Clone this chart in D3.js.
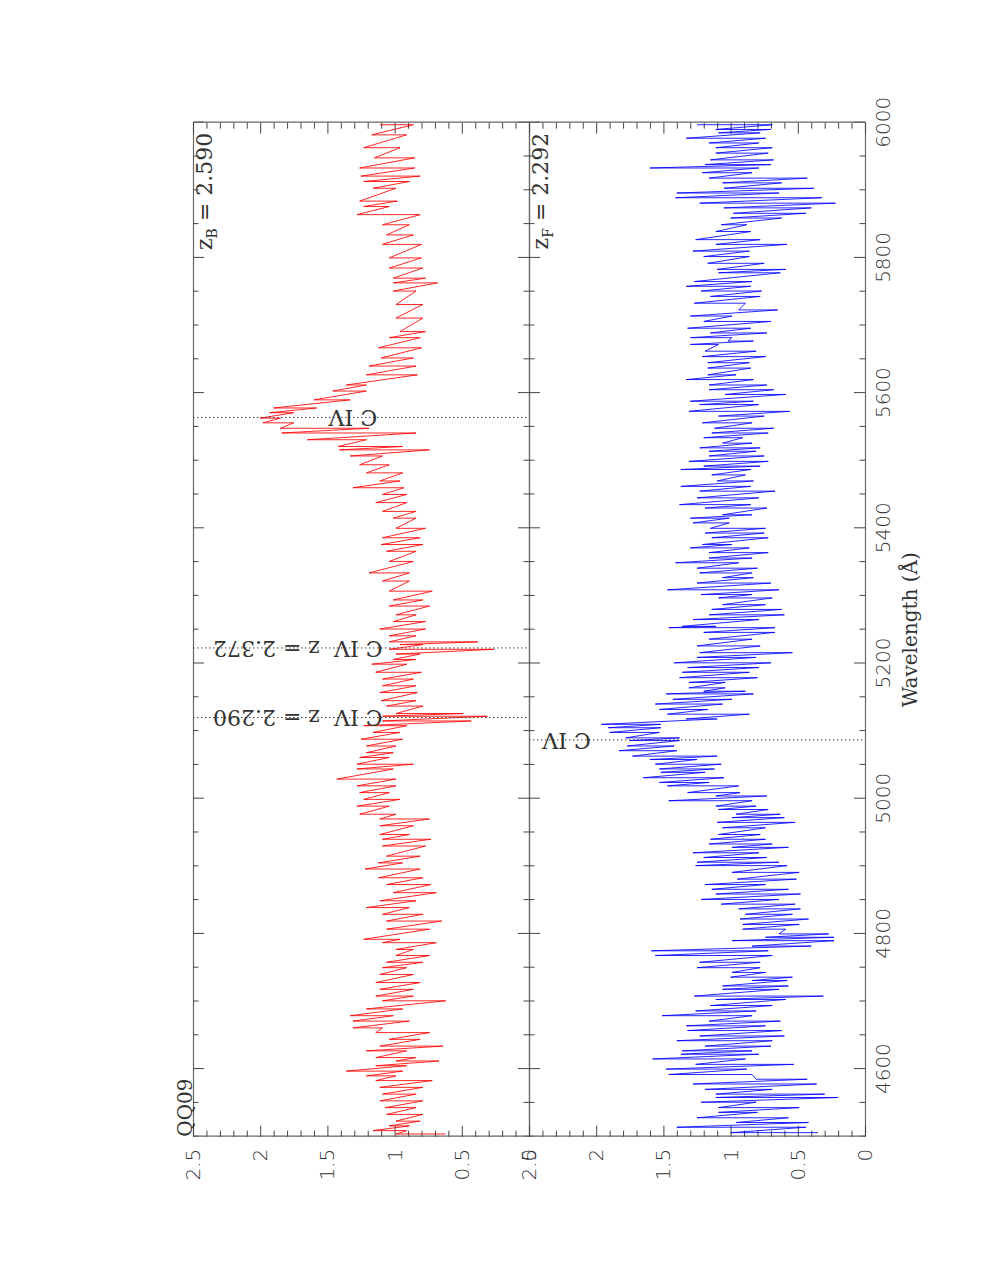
<!DOCTYPE html>
<html><head><meta charset="utf-8">
<script src="https://cdn.jsdelivr.net/npm/d3@7/dist/d3.min.js"></script>
<style>body{margin:0;background:#fff}svg{display:block}</style>
</head><body><svg id="c" width="981" height="1269"></svg>
<script>
// ---------- data ----------
// wavelength (Å) of each reading, with the upper and lower flux of the noisy trace there
const redWave=[5997,5982,5963,5948,5933,5921,5913,5903,5884,5876,5864,5849,5834,5820,5800,5785,5770,5763,5751,5731,5711,5691,5682,5667,5652,5640,5627,5612,5603,5590,5578,5571,5563,5556,5548,5541,5531,5521,5516,5507,5494,5482,5470,5460,5450,5438,5425,5415,5400,5386,5376,5366,5351,5334,5322,5307,5294,5285,5272,5262,5251,5241,5232,5228,5221,5214,5206,5199,5187,5177,5167,5157,5145,5137,5126,5122,5115,5108,5098,5088,5078,5068,5061,5051,5044,5029,5019,5009,4999,4989,4977,4970,4960,4947,4940,4930,4915,4905,4896,4883,4873,4861,4849,4839,4829,4819,4807,4792,4787,4777,4768,4758,4750,4740,4728,4718,4708,4701,4689,4679,4671,4661,4654,4644,4634,4627,4617,4612,4605,4597,4590,4583,4573,4563,4553,4543,4533,4523,4516,4509,4504];
const redHigh=[1.11,1.17,1.23,1.15,1.26,1.25,1.23,1.16,1.26,1.23,1.28,1.09,1.06,1.09,1.04,1.04,1.01,1.01,1.01,0.99,0.99,0.96,1.04,1.12,1.10,1.19,1.21,1.36,1.46,1.60,1.90,1.93,2.00,1.98,1.85,1.84,1.65,1.42,1.41,1.33,1.26,1.21,1.11,1.31,1.09,1.14,1.09,1.01,0.99,1.09,1.10,1.06,1.04,1.19,1.09,1.04,1.01,1.04,0.99,1.01,1.11,1.04,1.04,0.96,1.04,0.99,1.01,1.17,1.14,1.09,1.09,1.11,1.10,1.06,0.99,1.09,1.09,1.23,1.16,1.25,1.21,1.21,1.26,1.28,1.28,1.43,1.28,1.26,1.23,1.28,1.26,1.11,1.11,1.11,1.09,1.09,1.06,1.12,1.22,1.12,1.06,1.01,1.11,1.21,1.09,1.06,1.06,1.23,1.09,0.99,0.99,1.06,1.09,1.11,1.14,1.11,1.14,1.09,1.21,1.33,1.31,1.31,1.14,1.04,1.11,1.21,1.14,0.99,1.14,1.36,1.21,1.14,1.11,1.09,1.11,1.07,1.06,0.99,1.04,1.16,0.99];
const redLow=[0.86,0.91,0.96,0.85,0.85,0.81,0.89,0.99,0.98,1.04,0.81,0.89,0.86,0.80,0.80,0.79,0.77,0.68,0.84,0.79,0.79,0.77,0.81,0.80,0.86,0.84,0.83,1.21,1.21,1.33,1.58,1.75,1.85,1.75,1.19,0.84,1.21,0.94,0.74,1.09,1.04,0.94,0.96,0.93,0.91,0.91,0.84,0.84,0.77,0.81,0.79,0.84,0.86,0.89,0.89,0.72,0.79,0.74,0.84,0.77,0.77,0.84,0.38,0.79,0.26,0.81,0.84,0.91,0.80,0.86,0.84,0.83,0.84,0.79,0.49,0.31,0.43,0.91,0.96,0.94,0.99,1.01,1.04,0.86,1.01,0.99,0.99,1.04,0.96,1.04,0.99,0.74,0.86,0.89,0.73,0.77,0.81,0.94,0.81,0.79,0.73,0.69,0.84,0.89,0.79,0.65,0.74,0.96,0.69,0.86,0.74,0.79,0.91,0.86,0.81,0.86,0.86,0.62,0.94,1.01,0.89,1.09,0.74,0.81,0.64,0.91,0.84,0.67,0.91,0.94,0.99,0.72,0.79,0.84,0.79,0.84,0.79,0.81,0.89,0.91,0.62];

const blueWave=[5997,5990,5985,5977,5970,5963,5955,5945,5938,5933,5926,5918,5911,5903,5896,5889,5881,5874,5866,5859,5849,5839,5827,5820,5810,5802,5792,5783,5778,5765,5758,5751,5743,5733,5723,5714,5706,5696,5689,5682,5677,5672,5662,5654,5645,5637,5627,5620,5612,5605,5598,5588,5583,5573,5566,5556,5548,5541,5534,5526,5519,5514,5507,5499,5492,5487,5479,5470,5462,5455,5445,5435,5430,5420,5415,5408,5400,5393,5386,5376,5371,5364,5356,5349,5341,5334,5327,5319,5309,5302,5297,5287,5280,5272,5265,5255,5253,5246,5236,5226,5216,5209,5201,5194,5187,5179,5172,5164,5159,5155,5147,5140,5132,5125,5118,5110,5105,5098,5090,5086,5078,5071,5063,5058,5051,5044,5039,5031,5024,5019,5009,5004,4997,4989,4984,4977,4972,4965,4957,4947,4940,4933,4928,4920,4913,4906,4901,4891,4881,4873,4866,4859,4851,4844,4837,4829,4822,4814,4807,4800,4795,4790,4782,4775,4768,4758,4750,4743,4736,4731,4723,4718,4708,4703,4694,4686,4679,4671,4664,4657,4649,4642,4634,4627,4622,4615,4607,4600,4592,4585,4578,4570,4563,4558,4551,4543,4536,4528,4521,4514,4506];
const blueHigh=[1.25,1.11,1.09,1.33,1.16,1.11,1.11,1.15,1.19,1.60,1.21,1.16,1.06,1.05,1.40,1.41,1.23,1.05,0.98,1.00,1.07,1.11,1.26,1.11,1.28,1.20,1.17,1.10,1.09,1.27,1.33,1.22,1.15,1.27,0.94,1.30,1.20,1.32,1.15,1.30,1.02,1.30,1.19,1.21,1.17,1.17,1.17,1.33,1.16,1.16,1.04,1.30,1.23,1.31,1.09,1.21,1.12,1.14,1.20,1.06,1.23,1.16,1.16,1.31,1.20,1.37,1.14,1.10,1.37,1.23,1.25,1.38,1.19,1.06,1.30,1.28,1.15,1.19,1.14,1.21,1.30,1.16,1.16,1.41,1.25,1.23,1.06,1.25,1.47,1.22,1.09,1.06,1.14,1.16,1.28,1.36,1.46,1.20,1.16,1.25,1.23,1.25,1.42,1.32,1.36,1.38,1.31,1.31,1.20,1.48,1.43,1.56,1.53,1.47,1.33,1.96,1.91,1.90,1.78,1.75,1.77,1.83,1.73,1.60,1.56,1.53,1.52,1.65,1.53,1.47,1.32,1.11,1.46,1.11,1.09,0.96,0.99,1.10,1.06,1.09,1.15,1.16,0.99,1.28,1.20,1.25,1.26,0.99,0.95,1.19,1.14,1.11,1.22,1.07,0.94,0.89,0.93,0.91,0.91,0.64,0.74,0.99,0.84,1.59,1.56,1.23,1.25,0.99,1.00,0.84,1.06,1.06,1.27,1.11,1.15,1.26,1.51,1.16,1.33,1.32,1.23,1.40,1.19,1.36,1.37,1.58,1.26,1.48,1.46,0.81,1.28,1.19,1.11,1.11,1.22,1.09,1.09,1.25,0.96,1.40,1.00];
const blueLow=[0.69,0.70,0.78,0.74,0.79,0.69,0.72,0.68,0.70,0.79,0.84,0.43,0.62,0.38,0.64,0.32,0.22,0.40,0.44,0.62,0.88,0.85,0.78,0.58,0.86,0.86,0.75,0.59,0.63,0.84,0.85,0.77,0.78,0.89,0.65,0.99,0.70,0.85,0.73,0.99,0.83,1.09,0.81,0.74,0.86,0.85,0.96,0.83,0.73,0.68,0.59,0.83,0.79,0.56,0.75,0.84,0.68,0.72,0.91,0.84,0.78,0.81,0.75,0.72,0.78,0.85,0.89,0.83,0.85,0.67,0.79,0.85,0.73,0.84,1.01,1.01,0.74,0.75,0.72,0.99,0.86,0.72,0.84,0.94,0.80,0.84,0.83,0.70,0.64,0.84,0.69,0.74,0.62,0.60,0.79,1.11,0.67,0.67,0.84,0.78,0.54,0.81,0.70,0.79,0.86,0.80,1.04,1.04,0.89,0.83,0.99,1.06,1.17,0.86,1.10,1.52,1.52,1.53,1.38,1.38,1.42,1.40,1.10,1.25,1.07,1.12,1.19,1.05,1.16,0.94,0.93,0.73,0.84,0.81,0.72,0.63,0.60,0.52,0.74,0.78,0.74,0.69,0.57,0.79,0.73,0.64,0.58,0.49,0.51,0.74,0.57,0.48,0.64,0.52,0.48,0.54,0.42,0.49,0.59,0.27,0.23,0.23,0.40,0.72,0.69,0.78,0.78,0.74,0.54,0.58,0.57,0.64,0.31,0.59,0.69,0.81,0.84,0.63,0.74,0.62,0.60,0.69,0.70,0.84,0.79,0.89,0.53,0.88,0.84,0.43,0.36,0.69,0.30,0.20,0.81,0.49,0.80,0.57,0.42,0.44,0.35];

const waveDomain=[4500,6000];
const fluxDomain=[0,2.5];
const waveMajor=[4600,4800,5000,5200,5400,5600,5800,6000];
const waveMinor=[4500,4550,4650,4700,4750,4850,4900,4950,5050,5100,5150,5250,5300,5350,5450,5500,5550,5650,5700,5750,5850,5900,5950];
const fluxMajor=[0,0.5,1,1.5,2,2.5];
const fluxMinor=[0.1,0.2,0.3,0.4,0.6,0.7,0.8,0.9,1.1,1.2,1.3,1.4,1.6,1.7,1.8,1.9,2.1,2.2,2.3,2.4];
const panelNames=["B","F"];
const panelRedshifts=["2.590","2.292"];
const lineWave=[5564,5223,5120,5087];
const lineText=["C IV","C IV  z = 2.372","C IV  z = 2.290","C IV"];
const linePanel=[0,0,0,1];
const lineTextFlux=[1.13,1.09,1.09,2.04];
const objectName="QQ09";
const xTitle="Wavelength (Å)";

// ---------- layout ----------
const W=1014, PH=336;                 // chart frame (before rotation)
const svg=d3.select("#c");
const g=svg.append("g").attr("transform","translate(193,1136.7) rotate(-90)");
const x=d3.scaleLinear().domain(waveDomain).range([0,W]);
const yS=[0,1].map(p=>d3.scaleLinear().domain(fluxDomain).range([PH*(p+1),PH*p]));
const TXT="#333", AX="#666";
const sansF="'DejaVu Sans', sans-serif", serifF="'DejaVu Serif', serif";

function styleAxis(sel){
  sel.select(".domain").attr("stroke",AX).attr("stroke-width",1.2);
  sel.selectAll(".tick line").attr("stroke","#444").attr("stroke-width",1);
  sel.selectAll("text").attr("fill",TXT).attr("font-family",sansF).attr("font-size",20).attr("font-weight",200);
}
function waveAxis(gen,y,labels){
  const a=g.append("g").attr("transform",`translate(0,${y})`)
    .call(gen(x).tickValues(waveMajor).tickSize(-11).tickSizeOuter(0).tickPadding(10.5)
      .tickFormat(labels?d3.format("d"):""));
  styleAxis(a);
  const b=g.append("g").attr("transform",`translate(0,${y})`)
    .call(gen(x).tickValues(waveMinor).tickSize(-5.5).tickSizeOuter(0).tickFormat(""));
  styleAxis(b); b.select(".domain").remove();
}
function fluxAxis(gen,xpos,p,labels){
  const a=g.append("g").attr("transform",`translate(${xpos},0)`)
    .call(gen(yS[p]).tickValues(fluxMajor).tickSize(-11).tickSizeOuter(0).tickPadding(12)
      .tickFormat(labels?(d=>String(d)):""));
  styleAxis(a);
  const b=g.append("g").attr("transform",`translate(${xpos},0)`)
    .call(gen(yS[p]).tickValues(fluxMinor).tickSize(-6).tickSizeOuter(0).tickFormat(""));
  styleAxis(b); b.select(".domain").remove();
}
// wavelength axes
waveAxis(d3.axisTop,0,false);
waveAxis(d3.axisBottom,PH,false);
waveAxis(d3.axisTop,PH,false);
waveAxis(d3.axisBottom,2*PH,true);
// flux axes
[0,1].forEach(p=>{fluxAxis(d3.axisLeft,0,p,true);fluxAxis(d3.axisRight,W,p,false);});

// spectra
const line=d3.line();
function trace(wave,hi,lo,p,color){
  const pts=wave.flatMap((w,i)=>[[x(w),yS[p](hi[i])],[x(w),yS[p](lo[i])]]);
  g.append("path").attr("d",line(pts)).attr("fill","none")
   .attr("stroke",color).attr("stroke-width",0.85).attr("stroke-linejoin","round");
}
trace(redWave,redHigh,redLow,0,"#ff0000");
trace(blueWave,blueHigh,blueLow,1,"#0000ff");

// line markers
lineWave.forEach((w,i)=>{
  const p=linePanel[i];
  g.append("line").attr("x1",x(w)).attr("x2",x(w))
    .attr("y1",yS[p](fluxDomain[1])).attr("y2",yS[p](fluxDomain[0]))
    .attr("stroke","#333").attr("stroke-width",1).attr("stroke-dasharray","1.4,2.6");
  g.append("text").attr("transform",`translate(${x(w)},${yS[p](lineTextFlux[i])}) rotate(-90)`)
    .attr("dy","0.33em").attr("font-family",serifF).attr("font-size",22).attr("font-weight",200).attr("fill",TXT)
    .attr("xml:space","preserve").style("white-space","pre").text(lineText[i]);
});

// panel labels
panelNames.forEach((n,p)=>{
  const t=g.append("text").attr("x",W-10).attr("y",PH*p+19).attr("text-anchor","end")
    .attr("font-family",serifF).attr("font-size",22).attr("font-weight",200).attr("fill",TXT);
  t.append("tspan").text("z");
  t.append("tspan").attr("font-size",14).attr("dy",5).text(n);
  t.append("tspan").attr("dy",-5).style("white-space","pre").text(" = "+panelRedshifts[p]);
});
g.append("text").attr("x",0).attr("y",-1.5).attr("font-family",serifF).attr("font-size",20).attr("font-weight",200)
  .attr("fill",TXT).text(objectName);
g.append("text").attr("x",W/2).attr("y",2*PH+52).attr("text-anchor","middle")
  .attr("font-family",serifF).attr("font-size",20).attr("font-weight",200).attr("fill",TXT).text(xTitle);
</script></body></html>
